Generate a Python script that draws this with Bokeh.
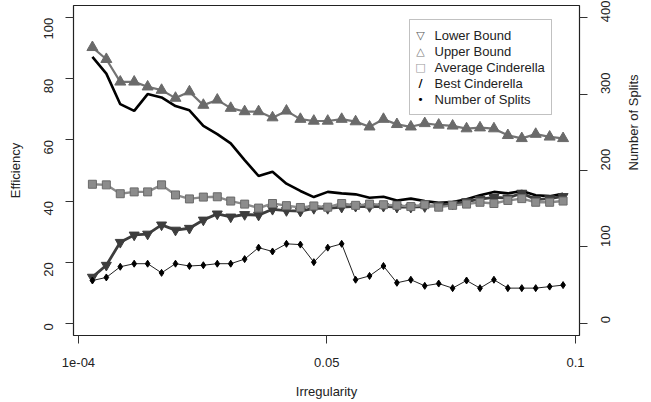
import math
from bokeh.plotting import figure
from bokeh.models import Range1d, LinearAxis, FixedTicker, Label, BoxAnnotation, ColumnDataSource
from bokeh.embed import file_html
from bokeh.resources import INLINE

# ---- data ----
irregularity = [0.0029, 0.0057, 0.0085, 0.0113, 0.0140, 0.0168, 0.0196, 0.0224, 0.0252,
                0.0280, 0.0307, 0.0335, 0.0363, 0.0391, 0.0419, 0.0447, 0.0474, 0.0502,
                0.0530, 0.0558, 0.0586, 0.0614, 0.0641, 0.0669, 0.0697, 0.0725, 0.0753,
                0.0781, 0.0808, 0.0836, 0.0864, 0.0892, 0.0920, 0.0948, 0.0975]
upper_bound = [90.3, 86.4, 79.0, 79.0, 77.4, 76.3, 73.7, 75.8, 71.4, 73.1, 70.4, 69.3,
               69.3, 67.3, 69.5, 66.8, 66.2, 66.2, 66.8, 66.0, 64.3, 66.8, 65.1, 64.3,
               65.4, 64.9, 64.6, 63.7, 64.0, 63.7, 61.5, 60.5, 61.9, 61.0, 60.5]
lower_bound = [15.1, 19.0, 26.5, 28.9, 29.2, 32.2, 30.5, 31.1, 33.8, 35.8, 34.8, 35.6,
               35.4, 37.3, 36.9, 36.7, 37.6, 37.6, 38.0, 38.3, 38.2, 38.3, 38.0, 38.0,
               38.2, 38.6, 39.0, 39.8, 40.6, 41.2, 41.0, 42.6, 40.5, 40.8, 41.5]
avg_cinderella = [45.5, 45.3, 42.4, 43.0, 43.0, 45.3, 42.0, 40.7, 41.3, 41.4, 40.0, 39.0,
                  37.7, 39.2, 38.5, 37.9, 38.4, 38.0, 39.2, 38.6, 39.0, 38.8, 38.6, 38.2,
                  38.8, 38.0, 38.6, 39.0, 39.6, 39.2, 40.2, 40.8, 39.6, 39.6, 40.0]
best_cinderella = [87.2, 81.7, 71.7, 69.5, 75.0, 73.9, 71.1, 69.7, 64.6, 61.9, 58.9, 53.4,
                   48.2, 49.6, 45.7, 43.3, 41.3, 43.0, 42.5, 42.2, 41.1, 41.4, 40.2, 40.8,
                   40.0, 39.4, 39.7, 40.6, 41.9, 43.0, 42.5, 43.3, 41.9, 41.6, 42.4]
num_splits = [56, 60, 74, 78, 78, 66, 78, 75, 76, 78, 78, 84, 99, 94, 104, 103, 80, 99,
              104, 57, 62, 75, 53, 57, 49, 52, 46, 56, 46, 57, 46, 46, 46, 48, 50]

x_ticks = [0.0001, 0.05, 0.1]
x_tick_labels = ["1e-04", "0.05", "0.1"]
eff_ticks = [0, 20, 40, 60, 80, 100]
split_ticks = [0, 100, 200, 300, 400]
legend_labels = ["Lower Bound", "Upper Bound", "Average Cinderella", "Best Cinderella", "Number of Splits"]
legend_symbols = ["\u25BD", "\u25B3", "\u25A1", "/", "\u2022"]

src = ColumnDataSource(dict(x=irregularity, up=upper_bound, lo=lower_bound,
                            avg=avg_cinderella, best=best_cinderella, spl=num_splits))

FONT = "Liberation Sans"

p = figure(width=651, height=402, output_backend="svg", toolbar_location=None,
           x_range=Range1d(-0.0009, 0.1008), y_range=Range1d(-4, 104),
           min_border_left=73, min_border_right=71, min_border_top=5, min_border_bottom=67,
           background_fill_color="white", border_fill_color="white")
p.extra_y_ranges = {"splits": Range1d(-16, 416)}
p.xgrid.visible = False
p.ygrid.visible = False
p.outline_line_color = "#222222"
p.outline_line_width = 1.2

def style_axis(ax, standoff, title, title_standoff):
    ax.axis_line_color = None
    ax.major_tick_line_color = "#333333"
    ax.major_tick_out = 8
    ax.major_tick_in = 0
    ax.minor_tick_line_color = None
    ax.major_label_text_font = FONT
    ax.major_label_text_font_size = "13px"
    ax.major_label_text_color = "#222222"
    ax.major_label_standoff = standoff
    ax.axis_label = title
    ax.axis_label_text_font = FONT
    ax.axis_label_text_font_size = "13px"
    ax.axis_label_text_font_style = "normal"
    ax.axis_label_text_color = "#222222"
    ax.axis_label_standoff = title_standoff

xa = p.xaxis[0]
xa.ticker = FixedTicker(ticks=x_ticks)
xa.major_label_overrides = {t: l for t, l in zip(x_ticks, x_tick_labels)}
style_axis(xa, 14, "Irregularity", 14)

ya = p.yaxis[0]
ya.ticker = FixedTicker(ticks=eff_ticks)
ya.major_label_orientation = math.pi / 2
style_axis(ya, 17, "Efficiency", 14)

ra = LinearAxis(y_range_name="splits", ticker=FixedTicker(ticks=split_ticks))
ra.major_label_orientation = math.pi / 2
style_axis(ra, 18, "Number of Splits", 16)
ra.axis_label_orientation = math.pi / 2
p.add_layout(ra, "right")

# series
p.line("x", "best", source=src, line_color="black", line_width=2.6)
p.line("x", "lo", source=src, line_color="#3d3d3d", line_width=2.8)
p.scatter("x", "lo", source=src, marker="inverted_triangle", size=10,
          fill_color="#3d3d3d", line_color="#3d3d3d")
p.line("x", "up", source=src, line_color="#737373", line_width=2.2)
p.scatter("x", "up", source=src, marker="triangle", size=11,
          fill_color="#6a6a6a", line_color="#6a6a6a")
p.line("x", "avg", source=src, line_color="#8a8a8a", line_width=2.4)
p.scatter("x", "avg", source=src, marker="square", size=8,
          fill_color="#8c8c8c", line_color="#6a6a6a")
p.line("x", "spl", source=src, y_range_name="splits", line_color="#222222", line_width=1)
p.scatter("x", "spl", source=src, y_range_name="splits", marker="diamond", size=7,
          fill_color="black", line_color="black")

# legend box (screen units relative to the plot frame)
p.add_layout(BoxAnnotation(left=336, right=478, top=316, bottom=221,
                           left_units="screen", right_units="screen",
                           top_units="screen", bottom_units="screen",
                           fill_color="white", fill_alpha=1.0,
                           line_color="#333333", line_width=1))
sym_colors = ["#555555", "#777777", "#999999", "black", "black"]
for i, (lab, sym) in enumerate(zip(legend_labels, legend_symbols)):
    yy = 300 - 16 * i
    p.add_layout(Label(x=347, y=yy, x_units="screen", y_units="screen", text=sym,
                       text_align="center", text_baseline="middle",
                       text_font="DejaVu Sans", text_font_size="11px",
                       text_font_style="bold" if sym == "/" else "normal",
                       text_color=sym_colors[i]))
    p.add_layout(Label(x=361, y=yy, x_units="screen", y_units="screen", text=lab,
                       text_align="left", text_baseline="middle",
                       text_font=FONT, text_font_size="13px", text_color="#222222"))

open("out.html", "w").write(file_html(p, INLINE))
